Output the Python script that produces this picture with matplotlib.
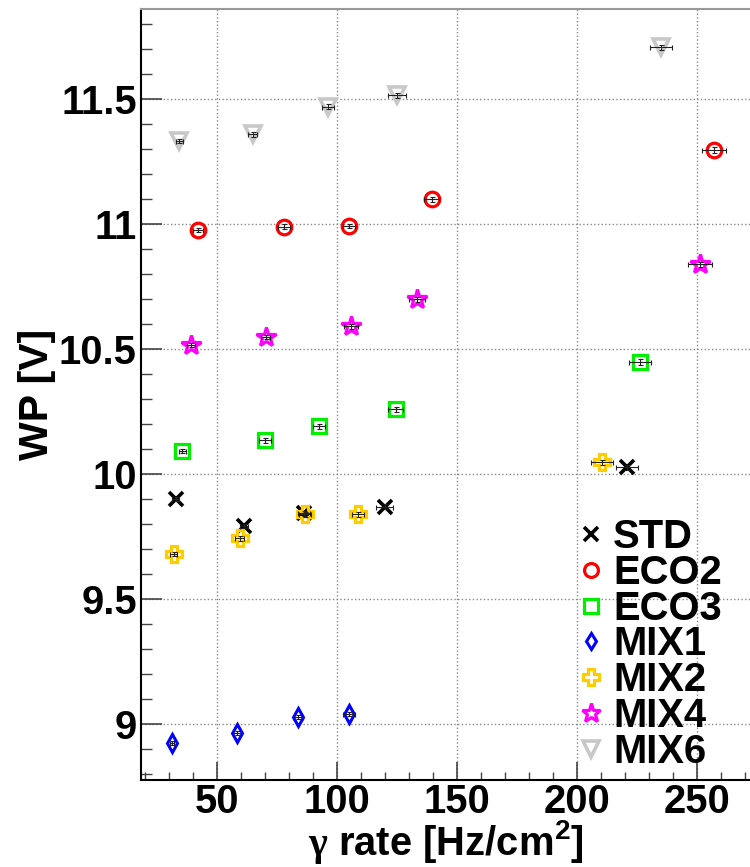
import numpy as np
import matplotlib
matplotlib.use("Agg")
import matplotlib.pyplot as plt
from matplotlib.ticker import MultipleLocator, FixedLocator

# working point vs gamma background rate, one series per gas mixture
std_x = [32.9, 61.4, 86.5, 120.1, 221.0]
std_y = [9.90, 9.793, 9.843, 9.869, 10.028]
std_xerr = [1.5, 1.5, 2.5, 3.5, 4.5]
std_yerr = [0.008, 0.008, 0.010, 0.010, 0.010]

eco2_x = [42.3, 78.2, 105.3, 139.6, 257.2]
eco2_y = [10.976, 10.989, 10.992, 11.100, 11.296]
eco2_xerr = [2.0, 2.5, 2.5, 3.1, 4.8]
eco2_yerr = [0.010, 0.010, 0.010, 0.010, 0.012]

eco3_x = [35.7, 70.1, 92.8, 124.6, 226.4]
eco3_y = [10.091, 10.135, 10.192, 10.260, 10.448]
eco3_xerr = [1.5, 2.5, 2.5, 3.0, 4.7]
eco3_yerr = [0.008, 0.010, 0.010, 0.010, 0.012]

mix1_x = [31.4, 58.5, 83.9, 105.3]
mix1_y = [8.923, 8.963, 9.029, 9.040]
mix1_xerr = [1.0, 1.5, 2.0, 2.5]
mix1_yerr = [0.008, 0.008, 0.008, 0.008]

mix2_x = [32.2, 59.6, 86.9, 108.9, 210.6]
mix2_y = [9.679, 9.743, 9.839, 9.839, 10.048]
mix2_xerr = [1.5, 2.0, 2.5, 2.5, 4.6]
mix2_yerr = [0.008, 0.010, 0.010, 0.010, 0.010]

mix4_x = [39.3, 70.4, 106.0, 133.5, 251.4]
mix4_y = [10.516, 10.549, 10.592, 10.700, 10.840]
mix4_xerr = [1.5, 2.0, 3.0, 3.5, 4.9]
mix4_yerr = [0.008, 0.008, 0.010, 0.010, 0.010]

mix6_x = [34.4, 65.0, 96.2, 125.1, 235.1]
mix6_y = [11.332, 11.359, 11.469, 11.516, 11.708]
mix6_xerr = [1.5, 2.0, 2.5, 3.6, 4.7]
mix6_yerr = [0.008, 0.010, 0.010, 0.010, 0.010]

x_ticks = [50, 100, 150, 200, 250]
y_ticks = [9, 9.5, 10, 10.5, 11, 11.5]
y_tick_labels = ["9", "9.5", "10", "10.5", "11", "11.5"]

plt.rcParams['font.family'] = ['Liberation Sans', 'DejaVu Sans']
plt.rcParams['font.weight'] = 'bold'
plt.rcParams['axes.labelweight'] = 'bold'
plt.rcParams['mathtext.fontset'] = 'custom'
plt.rcParams['mathtext.rm'] = 'Liberation Serif'
plt.rcParams['mathtext.bf'] = 'Liberation Sans:bold'

fig = plt.figure(figsize=(7.5, 8.67), dpi=100)
ax = fig.add_axes([141/750, 1 - 780/867, 609/750, 771/867])

series = [
    ("STD", std_x, std_y, std_xerr, std_yerr, 'x', 'black', 10, 2.6),
    ("ECO2", eco2_x, eco2_y, eco2_xerr, eco2_yerr, 'o', '#ff0000', 10.5, 2.3),
    ("ECO3", eco3_x, eco3_y, eco3_xerr, eco3_yerr, 's', '#00ee00', 10.5, 2.3),
    ("MIX1", mix1_x, mix1_y, mix1_xerr, mix1_yerr, 'd', '#0000ff', 9, 2.2),
    ("MIX2", mix2_x, mix2_y, mix2_xerr, mix2_yerr, 'P', '#ffcc00', 12, 2.3),
    ("MIX4", mix4_x, mix4_y, mix4_xerr, mix4_yerr, '*', '#ff00ff', 15, 2.3),
    ("MIX6", mix6_x, mix6_y, mix6_xerr, mix6_yerr, 'v', '#c8c8c8', 12, 2.6),
]

for name, x, y, xe, ye, mk, col, ms, mew in series:
    ax.plot(x, y, ls='none', marker=mk, ms=ms, mew=mew, mec=col,
            mfc='none', label=name, zorder=3)
    ax.errorbar(x, y, xerr=xe, yerr=ye, fmt='none', ecolor='#222222',
                elinewidth=0.8, capsize=1.8, capthick=0.8, zorder=4)

ax.set_xlim(18.5, 272.2)
ax.set_ylim(8.776, 11.86)

ax.xaxis.set_major_locator(FixedLocator(x_ticks))
ax.xaxis.set_minor_locator(MultipleLocator(10))
ax.set_yticks(y_ticks)
ax.set_yticklabels(y_tick_labels)
ax.yaxis.set_minor_locator(MultipleLocator(0.1))

ax.tick_params(axis='both', which='both', direction='in', colors='#444444',
               labelcolor='black', labelsize=28.8, top=False, right=False)
ax.tick_params(axis='x', which='major', length=13, width=1.2, pad=2)
ax.tick_params(axis='x', which='minor', length=6, width=1.0)
ax.tick_params(axis='y', which='major', length=15, width=1.2, pad=3)
ax.tick_params(axis='y', which='minor', length=8, width=1.0)

ax.grid(True, which='major', ls=':', color='#888888', lw=1.0)

ax.spines['left'].set_color('black')
ax.spines['bottom'].set_color('black')
ax.spines['left'].set_linewidth(1.5)
ax.spines['bottom'].set_linewidth(1.5)
ax.spines['top'].set_color('#999999')
ax.spines['top'].set_linewidth(1.5)
ax.spines['right'].set_visible(False)

ax.set_xlabel(r"$\mathrm{\gamma}$ rate [Hz/cm$^{\mathbf{2}}$]", fontsize=28.8)
ax.set_ylabel("WP [V]", fontsize=29.5)
ax.xaxis.set_label_coords(0.5, -0.049, transform=ax.transAxes)
ax.xaxis.label.set_va('top')
ax.yaxis.set_label_coords(-0.14, 0.5)

leg = ax.legend(loc='upper left', bbox_to_anchor=(575/750, 1 - 518/867),
                bbox_transform=fig.transFigure, frameon=False,
                prop={'size': 28.8, 'weight': 'bold'},
                handlelength=0.8, handletextpad=0.15,
                labelspacing=-0.055, borderaxespad=0, borderpad=0,
                markerscale=0.95)

fig.savefig("out.png", dpi=100)
